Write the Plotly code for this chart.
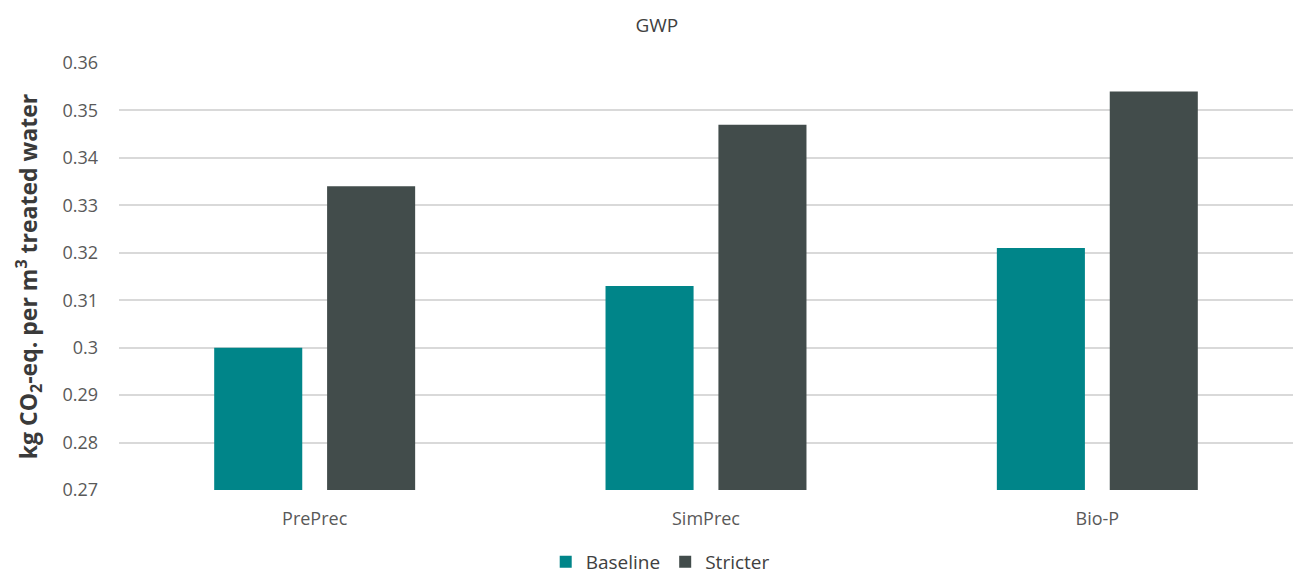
import plotly.graph_objects as go

# GWP per m3 of treated water for each phosphorus-removal option
categories = ["PrePrec", "SimPrec", "Bio-P"]
baseline = [0.300, 0.313, 0.321]
stricter = [0.334, 0.347, 0.354]

y_ticks = [0.27, 0.28, 0.29, 0.30, 0.31, 0.32, 0.33, 0.34, 0.35, 0.36]
y_tick_text = ["0.27", "0.28", "0.29", "0.3", "0.31", "0.32", "0.33", "0.34", "0.35", "0.36"]

FONT = "Open Sans, Noto Sans, sans-serif"

fig = go.Figure()
fig.add_trace(go.Bar(
    name="Baseline", x=categories, y=baseline,
    marker=dict(color="#008589", line=dict(width=0)),
))
fig.add_trace(go.Bar(
    name="Stricter", x=categories, y=stricter,
    marker=dict(color="#424c4b", line=dict(width=0)),
))

fig.update_layout(
    width=1293, height=581,
    paper_bgcolor="white", plot_bgcolor="white",
    margin=dict(l=119, r=0, t=63, b=91, autoexpand=False),
    barmode="group", bargap=0.423, bargroupgap=0.22,
    title=dict(text="GWP", x=0.508, xanchor="center", y=0.957, yanchor="middle",
               font=dict(family=FONT, size=19, color="#404040")),
    font=dict(family=FONT, color="#595959"),
    legend=dict(orientation="h", x=0.461, xanchor="center",
                yref="container", y=0.0, yanchor="bottom",
                font=dict(family=FONT, size=19, color="#404040"),
                itemwidth=30, traceorder="normal"),
    showlegend=True,
)

fig.update_xaxes(
    showgrid=False, showline=False, zeroline=False, automargin=False,
    tickfont=dict(family=FONT, size=18, color="#595959"),
    ticks="", ticklabelstandoff=16,
)
fig.update_yaxes(
    range=[0.27, 0.36], tickvals=y_ticks, ticktext=y_tick_text,
    showgrid=True, gridcolor="#d9d9d9", gridwidth=2,
    zeroline=False, showline=False, ticks="", automargin=False,
    tickfont=dict(family=FONT, size=18, color="#595959"),
    ticklabelstandoff=20,
    title=dict(text="<b>kg CO<sub>2</sub>-eq. per m<sup>3</sup> treated water</b>",
               font=dict(family=FONT, size=23, color="#3a3a3a"), standoff=18),
)

fig.write_html("out.html")
